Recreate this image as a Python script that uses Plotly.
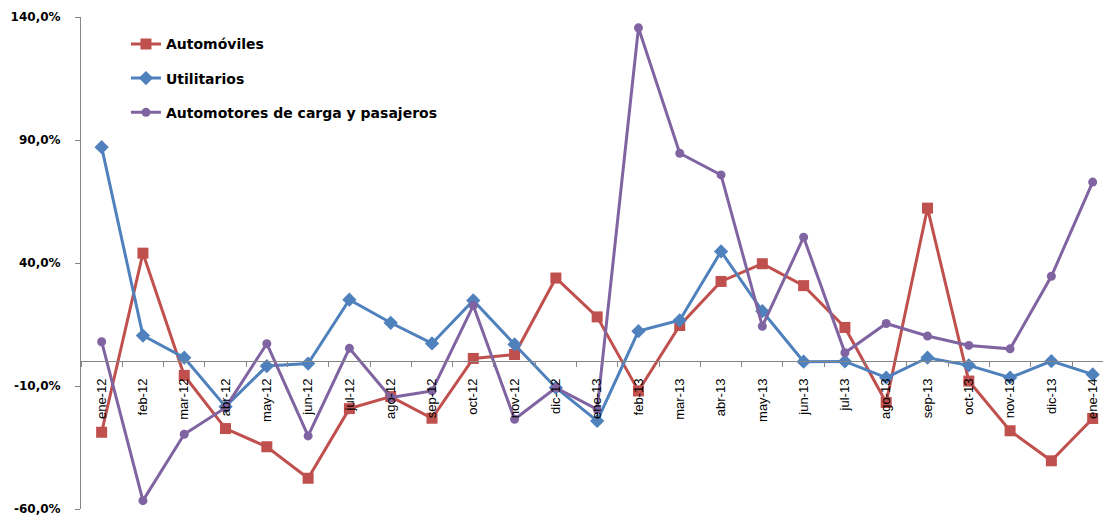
import plotly.graph_objects as go

# Monthly year-on-year variation by vehicle type
months = ["ene-12", "feb-12", "mar-12", "abr-12", "may-12", "jun-12", "jul-12",
          "ago-12", "sep-12", "oct-12", "nov-12", "dic-12", "ene-13", "feb-13",
          "mar-13", "abr-13", "may-13", "jun-13", "jul-13", "ago-13", "sep-13",
          "oct-13", "nov-13", "dic-13", "ene-14"]

automoviles = [-28.8, 44.0, -5.7, -27.3, -34.7, -47.5, -19.2, -14.3, -23.1, 1.2,
               2.8, 33.9, 18.1, -12.0, 14.6, 32.5, 39.7, 30.8, 13.8, -16.7,
               62.3, -8.0, -28.2, -40.4, -23.2]

utilitarios = [87.1, 10.5, 1.5, -18.4, -1.9, -0.9, 25.1, 15.7, 7.3, 24.8,
               6.9, -10.7, -24.2, 12.3, 16.7, 44.7, 20.4, -0.1, 0.0, -6.6,
               1.5, -1.6, -6.6, 0.1, -5.3]

carga_pasajeros = [8.0, -56.6, -29.6, -18.8, 7.2, -30.3, 5.3, -14.7, -12.0, 22.7,
                   -23.5, -10.7, -19.5, 135.6, 84.6, 75.8, 14.3, 50.5, 3.5, 15.4,
                   10.3, 6.5, 5.1, 34.6, 72.9]

y_ticks = [-60, -10, 40, 90, 140]
y_tick_text = ["-60,0%", "-10,0%", "40,0%", "90,0%", "140,0%"]

series = [
    ("Automóviles", automoviles, "#C0504D", "square", 11),
    ("Utilitarios", utilitarios, "#4F81BD", "diamond", 11),
    ("Automotores de carga y pasajeros", carga_pasajeros, "#8064A2", "circle", 9),
]

fig = go.Figure()
for i, (name, vals, color, symbol, size) in enumerate(series):
    fig.add_trace(go.Scatter(
        x=months, y=vals, name=name, mode="lines+markers",
        line=dict(color=color, width=3),
        marker=dict(symbol=symbol, size=size, color=color, line=dict(width=0)),
        legendgroup=f"g{i}",
    ))

axis_grey = "#868686"

fig.update_layout(
    width=1105, height=517,
    margin=dict(l=81, r=2, t=17, b=8, autoexpand=False),
    paper_bgcolor="white", plot_bgcolor="white",
    showlegend=True,
    legend=dict(
        x=0.044, y=0.977, xanchor="left", yanchor="top",
        bgcolor="rgba(0,0,0,0)",
        font=dict(family="DejaVu Sans", size=14, color="black", weight="bold"),
        traceorder="grouped", tracegroupgap=13,
    ),
    xaxis=dict(
        type="category", range=[-0.5, 24.25],
        anchor="free", position=0.3, automargin=False,
        showline=True, linecolor=axis_grey, linewidth=1,
        ticks="outside", tickson="boundaries", ticklen=5, tickcolor=axis_grey,
        tickangle=-90, ticklabelstandoff=11,
        tickfont=dict(family="Liberation Sans", size=13, color="black"),
        showgrid=False, zeroline=False,
    ),
    yaxis=dict(
        range=[-60, 140], automargin=False,
        tickvals=y_ticks, ticktext=y_tick_text,
        showline=True, linecolor=axis_grey, linewidth=1,
        ticks="outside", ticklen=5, tickcolor=axis_grey,
        ticklabelstandoff=12, ticklabeloverflow="allow",
        tickfont=dict(family="DejaVu Sans", size=12, color="black", weight="bold"),
        showgrid=False, zeroline=False,
    ),
)

fig.write_html("out.html")
